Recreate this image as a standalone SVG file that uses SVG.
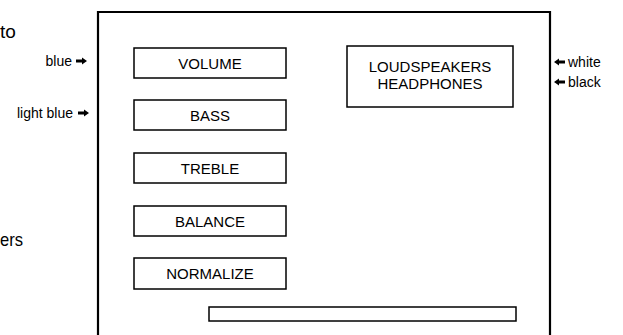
<svg xmlns="http://www.w3.org/2000/svg" width="623" height="335" viewBox="0 0 623 335">
<style>
.box{fill:#fff;stroke:#000;stroke-width:1.5}
.frame{fill:none;stroke:#000;stroke-width:2.2}
.t{font-family:"Liberation Sans",Arial,Helvetica,sans-serif;font-size:15px;fill:#000;text-anchor:middle}
.s{font-family:"Liberation Sans",Arial,Helvetica,sans-serif;font-size:14px;fill:#000}
.big{font-family:"Liberation Sans",Arial,Helvetica,sans-serif;font-size:19px;fill:#000}
.ar{fill:#000}
</style>
<rect width="623" height="335" fill="#fff"/>
<text class="big" x="0" y="38">to</text>
<text class="big" x="0" y="246" textLength="23" lengthAdjust="spacingAndGlyphs">ers</text>
<g id="frame"><path class="frame" d="M98,336 V12 H550 V336"/></g>
<g id="volume"><rect class="box" x="134" y="48" width="152" height="30"/><text class="t" x="210" y="68.5">VOLUME</text></g>
<g id="bass"><rect class="box" x="134" y="100" width="152" height="30"/><text class="t" x="210" y="120.5">BASS</text></g>
<g id="treble"><rect class="box" x="134" y="153" width="152" height="30"/><text class="t" x="210" y="173.5">TREBLE</text></g>
<g id="balance"><rect class="box" x="134" y="206" width="152" height="30"/><text class="t" x="210" y="226.5">BALANCE</text></g>
<g id="normalize"><rect class="box" x="134" y="258" width="152" height="31"/><text class="t" x="210" y="279">NORMALIZE</text></g>
<g id="output"><rect class="box" x="347" y="46" width="166" height="61"/><text class="t" x="430" y="72">LOUDSPEAKERS</text><text class="t" x="430" y="89">HEADPHONES</text></g>
<g id="bar"><rect class="box" x="209" y="307" width="307" height="14"/></g>
<g id="labels">
<text class="s" x="72" y="66" text-anchor="end">blue</text>
<text class="s" x="73" y="118" text-anchor="end">light blue</text>
<text class="s" x="568" y="66.5">white</text>
<text class="s" x="568" y="86.5">black</text>
</g>
<g id="connectors">
<path class="ar" d="M76,59.5 H82 V57.5 L87,61 L82,64.5 V62.5 H76 Z"/>
<path class="ar" d="M78,111.5 H84 V109.5 L89,113 L84,116.5 V114.5 H78 Z"/>
<path class="ar" d="M565,60.5 H559 V58.5 L554,62 L559,65.5 V63.5 H565 Z"/>
<path class="ar" d="M565,80.5 H559 V78.5 L554,82 L559,85.5 V83.5 H565 Z"/>
</g>
</svg>
